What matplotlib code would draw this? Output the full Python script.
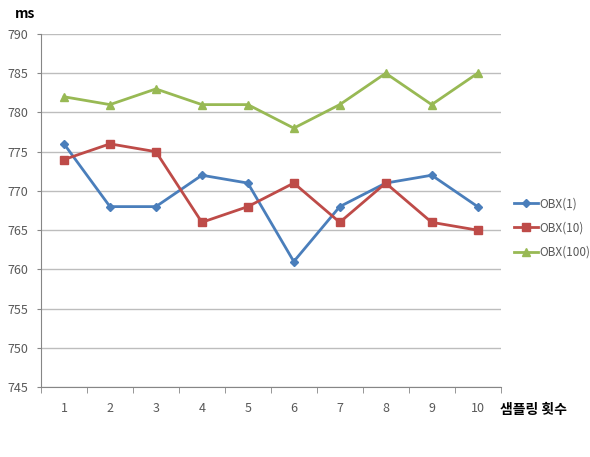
import matplotlib.pyplot as plt
import numpy as np

samples = [1, 2, 3, 4, 5, 6, 7, 8, 9, 10]
obx_1 = [776, 768, 768, 772, 771, 761, 768, 771, 772, 768]
obx_10 = [774, 776, 775, 766, 768, 771, 766, 771, 766, 765]
obx_100 = [782, 781, 783, 781, 781, 778, 781, 785, 781, 785]
y_ticks = [745, 750, 755, 760, 765, 770, 775, 780, 785, 790]

_AXIS = "#868686"
_GRID = "#bdbdbd"
_LABEL = "#595959"

plt.rcParams["font.family"] = ["Noto Sans CJK KR", "DejaVu Sans"]

fig = plt.figure(figsize=(5.9, 4.57), dpi=100)
ax = fig.add_axes([0.0695, 0.153, 0.779, 0.7726])

series = [
    ("OBX(1)", obx_1, "#4a7ebb", "D", 4),
    ("OBX(10)", obx_10, "#be4b48", "s", 5.5),
    ("OBX(100)", obx_100, "#98b954", "^", 6),
]
for label, vals, color, marker, ms in series:
    ax.plot(samples, vals, color=color, lw=2, marker=marker, markersize=ms,
            label=label)

ax.set_xlim(0.5, 10.5)
ax.set_ylim(745, 790)
ax.set_yticks(y_ticks)
ax.set_xticks(samples)
ax.set_xticks(np.arange(0.5, 11, 1), minor=True)
ax.yaxis.grid(True, color=_GRID, lw=1)
ax.set_axisbelow(True)
ax.tick_params(axis="x", which="major", length=0, pad=11, labelsize=9,
               labelcolor=_LABEL)
ax.tick_params(axis="x", which="minor", length=4, color=_AXIS, direction="out")
ax.tick_params(axis="y", length=3, color=_AXIS, pad=6, labelsize=9,
               labelcolor=_LABEL)
for side in ("top", "right"):
    ax.spines[side].set_visible(False)
for side in ("left", "bottom"):
    ax.spines[side].set_color(_AXIS)

fig.text(0.025, 0.985, "ms", fontsize=10, fontweight="bold", va="top")
fig.text(0.848, 0.102, "샘플링 횟수", fontsize=10, fontweight="bold",
         va="center", ha="left")

ax.legend(loc="center left", bbox_to_anchor=(0.872, 0.501),
          bbox_transform=fig.transFigure, frameon=False,
          fontsize=8.5, handlelength=2.0, handletextpad=0.1,
          labelspacing=0.95, borderpad=0, labelcolor=_LABEL, borderaxespad=0)

fig.savefig("out.png", dpi=100)
